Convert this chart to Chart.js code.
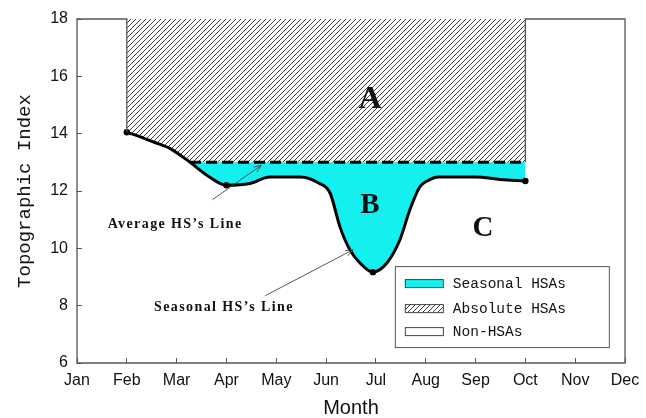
<!DOCTYPE html>
<html>
<head>
<meta charset="utf-8">
<title>Topographic Index by Month</title>
<script src="https://cdn.jsdelivr.net/npm/chart.js@4/dist/chart.umd.min.js"></script>
<style>
  html, body { margin: 0; padding: 0; background: #fff; }
  canvas { display: block; }
</style>
</head>
<body>
<canvas id="chart" width="646" height="418"></canvas>
<script>
// Axis categories and tick labels
const months = ['Jan', 'Feb', 'Mar', 'Apr', 'May', 'Jun', 'Jul', 'Aug', 'Sep', 'Oct', 'Nov', 'Dec'];
const yTicks = [6, 8, 10, 12, 14, 16, 18];

// Seasonal HS line: position in months (Jan = 1) and topographic index
const seasonalMonth = [2, 2.3, 2.55, 2.87, 3.27, 3.6, 4, 4.47, 4.87, 5.48, 5.85, 6.08, 6.28, 6.48, 6.68, 6.94, 7.22, 7.48, 7.68, 7.88, 8.03, 8.25, 9, 9.5, 10];
const seasonalIndex = [14.05, 13.87, 13.7, 13.48, 13.0, 12.56, 12.2, 12.26, 12.49, 12.49, 12.28, 11.93, 10.74, 9.94, 9.49, 9.17, 9.49, 10.29, 11.34, 12.14, 12.35, 12.49, 12.49, 12.4, 12.35];
const markedMonths = [2, 4, 6.94, 10];

// Average HS line and index limits
const averageHS = 13;
const averageStartMonth = 3.27;
const indexMin = 6;
const indexMax = 18;

const legendLabels = ['Seasonal HSAs', 'Absolute HSAs', 'Non-HSAs'];
const regionLabels = ['A', 'B', 'C'];
const lineLabels = ["Average HS\u2019s Line", "Seasonal HS\u2019s Line"];

const CYAN = '#14f0f0';
const FRAME = '#555';

const canvas = document.getElementById('chart');
const ctx2d = canvas.getContext('2d');

// Diagonal hatching for the absolute HSA region
function makeHatch() {
  const t = document.createElement('canvas');
  t.width = 5; t.height = 5;
  const g = t.getContext('2d');
  g.fillStyle = '#fff';
  g.fillRect(0, 0, 5, 5);
  g.strokeStyle = '#3c3c3c';
  g.lineWidth = 1;
  g.beginPath();
  g.moveTo(0, 5); g.lineTo(5, 0);
  g.moveTo(-1, 1); g.lineTo(1, -1);
  g.moveTo(4, 6); g.lineTo(6, 4);
  g.stroke();
  return ctx2d.createPattern(t, 'repeat');
}
const hatch = makeHatch();

const firstMonth = seasonalMonth[0];
const lastMonth = seasonalMonth[seasonalMonth.length - 1];
const seasonalPts = seasonalMonth.map((m, i) => ({ x: m, y: seasonalIndex[i] }));

// Outline of the non-HSA region and the plot box
const framePts = [
  { x: firstMonth, y: seasonalIndex[0] },
  { x: firstMonth, y: indexMax },
  { x: 1, y: indexMax },
  { x: 1, y: indexMin },
  { x: months.length, y: indexMin },
  { x: months.length, y: indexMax },
  { x: lastMonth, y: indexMax },
  { x: lastMonth, y: averageHS }
];

function arrow(ctx, x0, y0, x1, y1) {
  const a = Math.atan2(y1 - y0, x1 - x0);
  const L = 8, w = 0.38;
  ctx.beginPath();
  ctx.moveTo(x0, y0);
  ctx.lineTo(x1, y1);
  ctx.moveTo(x1 - L * Math.cos(a - w), y1 - L * Math.sin(a - w));
  ctx.lineTo(x1, y1);
  ctx.lineTo(x1 - L * Math.cos(a + w), y1 - L * Math.sin(a + w));
  ctx.stroke();
}

const annotations = {
  id: 'annotations',
  afterDatasetsDraw(chart) {
    const { ctx, scales: { x, y } } = chart;
    const px = m => x.getPixelForValue(m);
    const py = v => y.getPixelForValue(v);
    ctx.save();

    // Region letters
    ctx.fillStyle = '#111';
    ctx.textAlign = 'center';
    ctx.textBaseline = 'middle';
    ctx.font = 'bold 32px "Liberation Serif"';
    ctx.fillText(regionLabels[0], px(6.88), py(15.2));
    ctx.font = 'bold 29px "Liberation Serif"';
    ctx.fillText(regionLabels[1], px(6.88), py(11.5));
    ctx.fillText(regionLabels[2], px(9.15), py(10.7));

    // Line captions
    ctx.font = 'bold 14px "Liberation Serif"';
    ctx.letterSpacing = '1.4px';
    ctx.fillText(lineLabels[0], px(2.97), py(10.85));
    ctx.fillText(lineLabels[1], px(3.95), py(7.95));
    ctx.letterSpacing = '0px';

    // Pointer arrows
    ctx.strokeStyle = '#444';
    ctx.lineWidth = 0.9;
    arrow(ctx, px(3.72), py(11.7), px(4.7), py(12.9));
    arrow(ctx, px(4.78), py(8.35), px(6.54), py(9.95));

    // Legend
    const lx = px(7.38), ly = py(9.38);
    const lw = 214, lh = 81;
    ctx.fillStyle = '#fff';
    ctx.fillRect(lx, ly, lw, lh);
    ctx.strokeStyle = FRAME;
    ctx.lineWidth = 1;
    ctx.strokeRect(lx + 0.5, ly + 0.5, lw, lh);
    const fills = [CYAN, hatch, '#fff'];
    const rowY = [17, 42, 65];
    ctx.font = '14.5px "Liberation Mono"';
    ctx.textAlign = 'left';
    legendLabels.forEach((lab, i) => {
      const sy = ly + rowY[i];
      ctx.fillStyle = fills[i];
      ctx.fillRect(lx + 10, sy - 4, 38, 8);
      ctx.strokeStyle = '#444';
      ctx.strokeRect(lx + 10.5, sy - 3.5, 38, 8);
      ctx.fillStyle = '#111';
      ctx.fillText(lab, lx + 58, sy + 1);
    });
    ctx.restore();
  }
};

new Chart(canvas, {
  type: 'line',
  data: {
    datasets: [
      {
        label: lineLabels[1],
        data: seasonalPts,
        borderColor: '#000',
        borderWidth: 3,
        cubicInterpolationMode: 'monotone',
        pointRadius: c => markedMonths.includes(seasonalMonth[c.dataIndex]) ? 3.2 : 0,
        pointBackgroundColor: '#000',
        pointBorderWidth: 0,
        fill: false,
        order: 1
      },
      {
        label: lineLabels[0],
        data: [{ x: averageStartMonth, y: averageHS }, { x: lastMonth, y: averageHS }],
        borderColor: '#000',
        borderWidth: 3,
        borderDash: [11, 5],
        pointRadius: 0,
        fill: false,
        order: 2
      },
      {
        label: legendLabels[0],
        data: [{ x: firstMonth, y: averageHS }, { x: lastMonth, y: averageHS }],
        borderWidth: 0,
        borderColor: 'rgba(0,0,0,0)',
        pointRadius: 0,
        backgroundColor: CYAN,
        fill: { target: 0, above: CYAN, below: 'rgba(0,0,0,0)' },
        order: 3
      },
      {
        label: legendLabels[1],
        data: [{ x: firstMonth, y: indexMax }, { x: lastMonth, y: indexMax }],
        borderWidth: 0,
        borderColor: 'rgba(0,0,0,0)',
        pointRadius: 0,
        backgroundColor: hatch,
        fill: { target: 0, above: hatch, below: hatch },
        order: 4
      },
      {
        label: legendLabels[2],
        data: framePts,
        borderColor: FRAME,
        borderWidth: 1.3,
        pointRadius: 0,
        tension: 0,
        fill: false,
        clip: false,
        order: 0
      }
    ]
  },
  options: {
    responsive: false,
    devicePixelRatio: 1,
    animation: false,
    layout: { padding: { top: 19, right: 21, left: 0, bottom: 0 } },
    plugins: { legend: { display: false }, tooltip: { enabled: false } },
    scales: {
      x: {
        type: 'linear',
        min: 1,
        max: months.length,
        afterBuildTicks: s => { s.ticks = months.map((_, i) => ({ value: i + 1 })); },
        afterFit: s => { s.height = 55; s.paddingLeft = 0; s.paddingRight = 0; },
        ticks: {
          callback: v => months[v - 1],
          font: { family: 'Liberation Sans', size: 16 },
          color: '#111',
          padding: 13,
          maxRotation: 0,
          autoSkip: false
        },
        grid: { drawOnChartArea: false, drawTicks: true, tickLength: -5, color: FRAME, lineWidth: 1 },
        border: { display: false },
        title: {
          display: true,
          text: 'Month',
          font: { family: 'Liberation Sans', size: 20 },
          color: '#111',
          padding: { top: 0, bottom: -2 }
        }
      },
      y: {
        min: indexMin,
        max: indexMax,
        afterBuildTicks: s => { s.ticks = yTicks.map(v => ({ value: v })); },
        afterFit: s => { s.width = 77; s.paddingTop = 0; s.paddingBottom = 0; },
        ticks: {
          font: { family: 'Liberation Sans', size: 16 },
          color: '#111',
          padding: 14
        },
        grid: { drawOnChartArea: false, drawTicks: true, tickLength: -5, color: FRAME, lineWidth: 1 },
        border: { display: false },
        title: {
          display: true,
          text: 'Topographic Index',
          font: { family: 'Liberation Mono', size: 19 },
          color: '#111',
          padding: { top: 14, bottom: 0 }
        }
      }
    }
  },
  plugins: [annotations]
});
</script>
</body>
</html>
